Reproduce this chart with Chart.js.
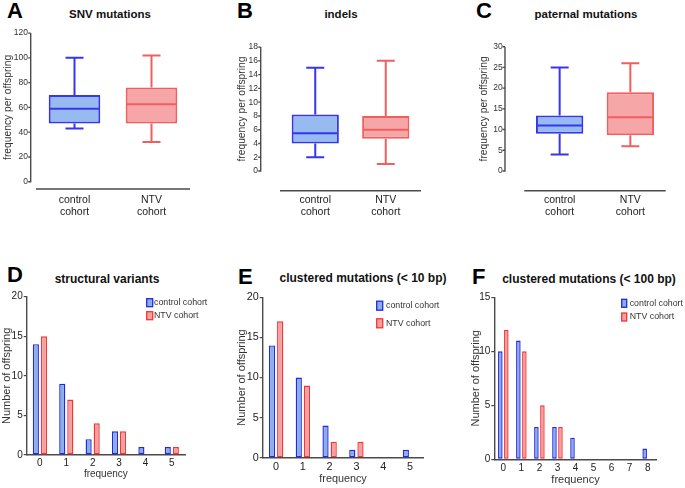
<!DOCTYPE html>
<html>
<head>
<meta charset="utf-8">
<script src="https://cdn.jsdelivr.net/npm/chart.js@4.4.0/dist/chart.umd.min.js"></script>
<style>
  body { margin: 0; background: #fff; }
  #page { position: relative; width: 685px; height: 488px; overflow: hidden; font-family: "Liberation Sans", Arial, sans-serif; }
  canvas { position: absolute; }
  .letter { position: absolute; font-size: 22px; font-weight: bold; line-height: 22px; color: #000; }
  .title { position: absolute; font-weight: bold; line-height: 1; white-space: nowrap; color: #111; transform: translate(-50%, -50%); }
</style>
</head>
<body>
<div id="page">
  <div class="letter" style="left:7px;top:0px">A</div>
  <div class="letter" style="left:237px;top:0px">B</div>
  <div class="letter" style="left:476px;top:0px">C</div>
  <div class="letter" style="left:7px;top:264px">D</div>
  <div class="letter" style="left:238px;top:266px">E</div>
  <div class="letter" style="left:472px;top:266px">F</div>

  <div class="title" style="left:110px;top:15px;font-size:11.5px">SNV mutations</div>
  <div class="title" style="left:341px;top:15px;font-size:11.5px">indels</div>
  <div class="title" style="left:586px;top:15px;font-size:11.5px">paternal mutations</div>
  <div class="title" style="left:107px;top:279px;font-size:12px">structural variants</div>
  <div class="title" style="left:363px;top:278px;font-size:12px">clustered mutations (&lt; 10 bp)</div>
  <div class="title" style="left:589px;top:279px;font-size:12px">clustered mutations (&lt; 100 bp)</div>

  <canvas id="snv" width="200" height="200" style="left:0px;top:20px"></canvas>
  <canvas id="indels" width="195" height="200" style="left:234px;top:20px"></canvas>
  <canvas id="paternal" width="209" height="200" style="left:476px;top:20px"></canvas>
  <canvas id="sv" width="215" height="197" style="left:0px;top:285px"></canvas>
  <canvas id="cl10" width="220" height="202" style="left:235px;top:285px"></canvas>
  <canvas id="cl100" width="216" height="203" style="left:469px;top:285px"></canvas>
</div>
<script>
const cohorts = ['control cohort', 'NTV cohort'];
const boxLabels = [['control', 'cohort'], ['NTV', 'cohort']];

// min, q1, median, q3, max for control and NTV
const snvStats = [[43, 47, 59, 70, 100], [32, 47, 62.5, 76, 102]];
const indelStats = [[2, 4, 5.5, 8.2, 15], [1, 4.7, 6, 8, 16]];
const paternalStats = [[4, 9, 11, 13.4, 25], [6, 8.6, 13, 19, 26]];

const freqLabels = ['0', '1', '2', '3', '4', '5'];
const freqLabelsWide = ['0', '1', '2', '3', '4', '5', '6', '7', '8'];
const svControl = [14, 9, 2, 3, 1, 1];
const svNtv = [15, 7, 4, 3, 0, 1];
const cl10Control = [14, 10, 4, 1, 0, 1];
const cl10Ntv = [17, 9, 2, 2, 0, 0];
const cl100Control = [10, 11, 3, 3, 2, 0, 0, 0, 1];
const cl100Ntv = [12, 10, 5, 3, 0, 0, 0, 0, 0];

const boxBlue = '#3636ee', boxBlueFill = '#97bbf1';
const boxRed = '#f05f5f', boxRedFill = '#f6a6a6';
const barBlue = '#2626e0', barBlueFill = '#86aee9';
const barRed = '#f53535', barRedFill = '#f5a0a0';
const axisColor = '#4a4a4a';

Chart.defaults.font.family = '"Liberation Sans", Arial, sans-serif';
Chart.defaults.color = '#333';

// works out padding and scale sizes so the plot area lands where it should
function placed(id, area) {
    let c = document.getElementById(id)
    let x0 = parseFloat(c.style.left), y0 = parseFloat(c.style.top)
    return {
        padTop: area.t - y0,
        padRight: x0 + c.width - area.r,
        yWidth: area.l - x0,
        xHeight: y0 + c.height - area.b
    }
}

const boxAxes = {
    id: 'boxAxes',
    afterDraw(chart, args, opts) {
        const {ctx, chartArea, scales: {y}} = chart
        const ax = chartArea.left - opts.yGap
        ctx.save()
        ctx.strokeStyle = axisColor
        ctx.lineWidth = 1.4
        ctx.beginPath()
        ctx.moveTo(ax, y.getPixelForValue(0) + 0.7)
        ctx.lineTo(ax, y.getPixelForValue(y.max))
        y.ticks.forEach(t => {
            const py = y.getPixelForValue(t.value)
            ctx.moveTo(ax - 2.5, py)
            ctx.lineTo(ax, py)
        })
        const by = chartArea.bottom + opts.xGap
        ctx.moveTo(chartArea.left, by)
        ctx.lineTo(chartArea.right, by)
        ctx.stroke()
        ctx.restore()
    }
}

const boxWhiskers = {
    id: 'boxWhiskers',
    afterDatasetsDraw(chart) {
        const {ctx, scales: {y}} = chart
        const ds = chart.data.datasets[0]
        chart.getDatasetMeta(0).data.forEach((bar, i) => {
            const [lo, q1, med, q3, hi] = ds.stats[i]
            const x = bar.x, half = bar.width / 2 - 1, cap = 9
            ctx.save()
            ctx.strokeStyle = ds.borderColor[i]
            ctx.lineWidth = 2
            ctx.beginPath()
            ctx.moveTo(x, y.getPixelForValue(hi))
            ctx.lineTo(x, y.getPixelForValue(q3))
            ctx.moveTo(x, y.getPixelForValue(q1))
            ctx.lineTo(x, y.getPixelForValue(lo))
            ctx.moveTo(x - cap, y.getPixelForValue(hi))
            ctx.lineTo(x + cap, y.getPixelForValue(hi))
            ctx.moveTo(x - cap, y.getPixelForValue(lo))
            ctx.lineTo(x + cap, y.getPixelForValue(lo))
            ctx.moveTo(x - half, y.getPixelForValue(med))
            ctx.lineTo(x + half, y.getPixelForValue(med))
            ctx.stroke()
            ctx.restore()
        })
    }
}

const cornerLegend = {
    id: 'cornerLegend',
    afterDraw(chart, args, opts) {
        const {ctx} = chart
        chart.data.datasets.forEach((ds, i) => {
            const yc = opts.y + i * opts.gap
            ctx.save()
            ctx.fillStyle = ds.backgroundColor
            ctx.fillRect(opts.x, yc - opts.h / 2, opts.w, opts.h)
            ctx.strokeStyle = ds.borderColor
            ctx.lineWidth = 1.3
            ctx.strokeRect(opts.x, yc - opts.h / 2, opts.w, opts.h)
            ctx.fillStyle = '#333'
            ctx.font = '8.8px "Liberation Sans", Arial, sans-serif'
            ctx.textBaseline = 'middle'
            ctx.fillText(ds.label, opts.textX, yc)
            ctx.restore()
        })
    }
}

function boxChart(id, stats, yMax, yStep, area, o) {
    let f = placed(id, area)
    return new Chart(document.getElementById(id), {
        type: 'bar',
        data: {
            labels: boxLabels,
            datasets: [{
                data: stats.map(s => [s[1], s[3]]),
                stats: stats,
                backgroundColor: [boxBlueFill, boxRedFill],
                borderColor: [boxBlue, boxRed],
                borderWidth: 2,
                borderSkipped: false,
                barPercentage: 0.67,
                categoryPercentage: 1
            }]
        },
        options: {
            responsive: false,
            animation: false,
            layout: { padding: { top: f.padTop, right: f.padRight, left: 0, bottom: 0 } },
            plugins: {
                legend: { display: false },
                tooltip: { enabled: false },
                boxAxes: { yGap: o.yGap, xGap: o.xGap }
            },
            scales: {
                x: {
                    grid: { display: false, drawTicks: false },
                    border: { display: false },
                    ticks: { padding: o.xPad, color: '#222', font: { size: 10.5, lineHeight: 1.15 } },
                    afterFit: s => { s.height = f.xHeight }
                },
                y: {
                    min: 0,
                    max: yMax,
                    ticks: { stepSize: yStep, padding: o.yPad, font: { size: 8.5 } },
                    grid: { display: false, drawTicks: false },
                    border: { display: false },
                    title: { display: true, text: 'frequency per offspring', font: { size: 10.3 }, padding: { top: 2.2, bottom: 0 } },
                    afterFit: s => { s.width = f.yWidth }
                }
            }
        },
        plugins: [boxAxes, boxWhiskers]
    })
}

function freqChart(id, labels, control, ntv, yMax, area, o) {
    let f = placed(id, area)
    let barStyle = { borderWidth: 1.4, borderSkipped: false, categoryPercentage: o.cat, barPercentage: 0.76 }
    return new Chart(document.getElementById(id), {
        type: 'bar',
        data: {
            labels: labels,
            datasets: [{
                label: cohorts[0],
                data: control,
                backgroundColor: barBlueFill,
                borderColor: barBlue,
                ...barStyle
            }, {
                label: cohorts[1],
                data: ntv,
                backgroundColor: barRedFill,
                borderColor: barRed,
                ...barStyle
            }]
        },
        options: {
            responsive: false,
            animation: false,
            layout: { padding: { top: f.padTop, right: f.padRight, left: 0, bottom: 0 } },
            plugins: {
                legend: { display: false },
                tooltip: { enabled: false },
                cornerLegend: o.legend
            },
            scales: {
                x: {
                    grid: { display: false, drawTicks: false },
                    border: { display: true, color: axisColor, width: 1.4 },
                    ticks: { padding: o.xPad, color: '#222', font: { size: o.xFont } },
                    title: { display: true, text: 'frequency', color: '#333', font: { size: o.xTitleFont }, padding: { top: 0, bottom: o.xTitlePad } },
                    afterFit: s => { s.height = f.xHeight }
                },
                y: {
                    min: 0,
                    max: yMax,
                    ticks: { stepSize: 5, padding: 1, color: '#222', font: { size: o.yFont } },
                    grid: { drawOnChartArea: false, tickLength: 3, color: axisColor, lineWidth: 1.2 },
                    border: { display: true, color: axisColor, width: 1.4 },
                    title: { display: true, text: 'Number of offspring', font: { size: 11 }, padding: { top: o.yTitlePad, bottom: 0 } },
                    afterFit: s => { s.width = f.yWidth }
                }
            }
        },
        plugins: [cornerLegend]
    })
}

boxChart('snv', snvStats, 120, 20, { l: 36, t: 30.7, r: 190, b: 181.7 }, { yGap: 5.3, xGap: 7.3, xPad: 12.2, yPad: 8 })
boxChart('indels', indelStats, 18, 2, { l: 280, t: 30.7, r: 421, b: 171 }, { yGap: 19.3, xGap: 19.7, xPad: 23, yPad: 22 })
boxChart('paternal', paternalStats, 30, 5, { l: 524.3, t: 31, r: 665.7, b: 171 }, { yGap: 19.3, xGap: 19.7, xPad: 23, yPad: 21.6 })

freqChart('sv', freqLabels, svControl, svNtv, 20, { l: 26.7, t: 296.7, r: 185, b: 455 }, {
    cat: 0.61, xPad: 2.3, xFont: 10, xTitleFont: 10, xTitlePad: 1.7, yFont: 10, yTitlePad: 0.1,
    legend: { x: 146.7, textX: 154, y: 17.7, gap: 13, w: 6, h: 8 }
})
freqChart('cl10', freqLabels, cl10Control, cl10Ntv, 20, { l: 262.7, t: 297.3, r: 423.3, b: 457.7 }, {
    cat: 0.61, xPad: 3.1, xFont: 10.8, xTitleFont: 10.8, xTitlePad: 1.2, yFont: 10.8, yTitlePad: 0.1,
    legend: { x: 141.7, textX: 151, y: 20.7, gap: 17.6, w: 6, h: 9 }
})
freqChart('cl100', freqLabelsWide, cl100Control, cl100Ntv, 15, { l: 494.3, t: 297.3, r: 656.7, b: 459.3 }, {
    cat: 0.665, xPad: 3, xFont: 10, xTitleFont: 11, xTitlePad: 1.4, yFont: 10, yTitlePad: 0.4,
    legend: { x: 152.7, textX: 160.7, y: 18.3, gap: 13.7, w: 5, h: 8 }
})
</script>
</body>
</html>
